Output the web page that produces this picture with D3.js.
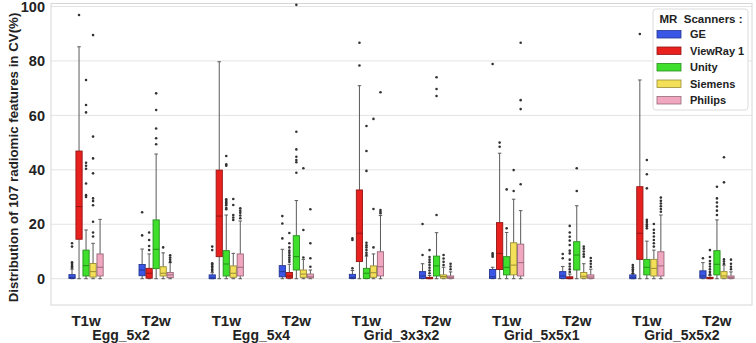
<!DOCTYPE html>
<html>
<head>
<meta charset="utf-8">
<script src="https://cdn.jsdelivr.net/npm/d3@7"></script>
<style>
  html, body { margin: 0; padding: 0; background: #fff; }
  svg { display: block; font-family: "Liberation Sans", Arial, sans-serif; }
</style>
</head>
<body>
<svg id="chart" width="756" height="343"></svg>
<script>
// ---- data ----
const phantoms = ["Egg_5x2", "Egg_5x4", "Grid_3x3x2", "Grid_5x5x1", "Grid_5x5x2"];
const sequences = ["T1w", "T2w"];
const scanners = ["GE", "ViewRay 1", "Unity", "Siemens", "Philips"];
const scannerColors = ["#3a56e6", "#e8211e", "#3ee02c", "#f3df58", "#f1a7c0"];
const yTicks = [0, 20, 40, 60, 80, 100];

// five-number summaries per group: [whiskerLow, q1, median, q3, whiskerHigh]
const geStats = [[0,0.1,0.5,1.5,3.5],[0,1.1,3.2,5.2,10.9],[0,0,0.3,1.4,2.2],[0,0.7,2.6,4.8,10.8],[0,0.1,0.5,1.6,3],
                 [0,0.1,1.0,2.6,5.5],[0,0.1,0.7,3.4,4.2],[0,0.1,1.0,2.6,4.5],[0,0,0.5,1.4,1.8],[0,0.2,1.0,2.9,5.9]];
const geOut = [[4,4.5,5,5.5,6,11.8,13],[15.9,24.4],[2.8,3.4,4,4.6,5.2,5.7,10.5,11.8],[14.8,20.3,23],[3.8,14.2,14.8],
               [8.7,20.1],[8.1,8.7,9.3,78.9],[7.5,9.1],[2,2.8,3.5,4.2,5],[7.5]];

const viewrayStats = [[0,14.5,26.5,46.9,85.2],[0,0.2,2.0,3.8,9.1],[0,8.1,23.0,39.9,79.7],[0,0.2,1.0,2.3,5.3],[0,6.3,16.7,32.6,70.9],
                      [0,0,0.2,0.5,1.2],[0,3.4,9.3,20.6,46.1],[0,0,0.2,0.7,1.7],[0,7.1,16.7,33.8,73.0],[0,0,0.2,0.5,1.2]];
const viewrayOut = [[96.9],[10.5,12,14.2,17],[],[6.2,7,7.8,8.6,9.5,10.3,11.5,13,16.8],[78.3,86.7],
                    [2,3,4,5,6,7,8,10.5],[48.5,50],[2.5,3.5,4.5,5.5,7,9.3,10.3,12.4,14,15.4,17,19.4],[89.9],[1.6,2.5,3.5,4.5,5.5,6.5,8,10.5]];

const unityStats = [[0,1.0,4.8,10.5,17.9],[0,3.7,10.8,21.6,45.8],[0,1.0,5.4,10.3,23.4],[0,3.2,8.1,15.8,28.7],[0,0.1,2.0,3.8,8.3],
                    [0,1.0,4.7,8.3,16.9],[0,1.4,4.2,8.1,17],[0,3.2,8.7,13.6,26.8],[0,1.4,4.2,7.1,13.8],[0,1.4,5.3,10.3,21.6]];
const unityOut = [[30,30.7,35,40.4,41.5,42.6,61.1,63.8,73],[49.4,51.6,55.2,62,68.1],[25.5,26,27,27.5,28,28.5,29.2,41.5,42,45.1],
                  [38.9,42.8,43.6,44.8,47.5,54,100.6],[8.7,9.5,10.5,11.5,12.3,13.2,39.6,46.9,56.1],[23.4,67.1,69.7,74],
                  [18.5,32.8],[32.2,40.6],[18.5,19.3,20,20.8,21.6,33.2,38.4,43.6],[23.4,25,26.5,28,29.5,33.8]];

const siemensStats = [[0,0.6,2.6,5.6,13],[0,1.0,2.0,4.4,9.5],[0,0.5,2.0,4.7,9.3],[0,0.5,1.7,3.2,7.1],[0,0.5,2.2,4.7,9.1],
                      [0,0.2,0.8,1.4,4.2],[0,1.4,5.0,13.2,29.2],[0,0.2,0.9,2.3,5.5],[0,1.0,3.8,7.1,10.5],[0,0.2,1.0,2.6,5]];
const siemensOut = [[15.5,17,20.9,27,28.5,29.5,38.7,44.2,52.2,89.5],[11.5],[21.6,22.5,23.4,27.1,29.3],[7.8,17.9,40.6],
                    [11.5,25.6,58.7],[5,6.2,7.4,8.7],[32.2,39.9],[8.1,9,10,11,11.8],[11.8,13,14.2,15.5,16.8,18,20.1],[5.5,6.3,7.1,35.4,44.6]];

const philipsStats = [[0,1.0,4.2,9.1,21.8],[0,0.4,1.4,2.3,5.9],[0,1.0,4.2,9.1,21.2],[0,0.3,0.7,1.7,3.2],[0,1.0,4.4,9.9,23.2],
                      [0,0.1,0.5,1.0,2.5],[0,1.0,5.9,12.7,25.0],[0,0.1,0.6,1.4,3.5],[0,1.0,4.7,9.9,23.4],[0,0.1,0.5,1.0,2.5]];
const philipsOut = [[],[6.2,7,7.8,8.6],[22.2,23.2,24.2,25,25.9],[4.4,7.5,13,25.5],[24,24.6,25.2,68.5],
                    [3.5,4.5,5.5],[34.7,62.3,65.6,86.7],[4.4,5.5,6.5,7.6],[24.6,25.6,26.6,27.6,28.6,29.8],[3.5,4.4,5.5,7]];

const allStats = [geStats, viewrayStats, unityStats, siemensStats, philipsStats];
const allOut = [geOut, viewrayOut, unityOut, siemensOut, philipsOut];

// ---- layout ----
const svg = d3.select("#chart");
const plot = { left: 51, right: 752, top: 3.5, bottom: 305 };
const groups = d3.range(phantoms.length * sequences.length);

const x = d3.scaleBand().domain(groups).range([plot.left, plot.right]).padding(0);
const y = d3.scaleLinear().domain([-9.66, 101.1]).range([plot.bottom, plot.top]);
const boxW = x.bandwidth() * 0.1;
const xs = d3.scaleLinear().domain([0, scanners.length - 1])
  .range([-2 * boxW, 2 * boxW]);

// gridlines
svg.append("g").selectAll("line").data(yTicks).join("line")
  .attr("x1", plot.left).attr("x2", plot.right)
  .attr("y1", d => y(d)).attr("y2", d => y(d))
  .attr("stroke", "#e3e3e3").attr("stroke-width", 1);

// frame
svg.append("rect")
  .attr("x", plot.left).attr("y", plot.top)
  .attr("width", plot.right - plot.left).attr("height", plot.bottom - plot.top)
  .attr("fill", "none").attr("stroke", "#d6d6d6").attr("stroke-width", 1);

// y axis
const yAxis = d3.axisLeft(y).tickValues(yTicks).tickSize(0).tickPadding(6);
const yg = svg.append("g").attr("transform", `translate(${plot.left},0)`).call(yAxis);
yg.select(".domain").remove();
yg.selectAll("text").attr("font-size", 14.5).attr("font-weight", "bold")
  .attr("fill", "#222").attr("font-family", "Liberation Sans, Arial, sans-serif");

// y label
svg.append("text")
  .attr("transform", `translate(18,157.5) rotate(-90)`)
  .attr("text-anchor", "middle")
  .attr("font-size", 13.3).attr("font-weight", "bold").attr("fill", "#222")
  .text("Distribution of 107 radiomic features in CV(%)");

// x axis
const xAxis = d3.axisBottom(x).tickSize(0).tickPadding(10)
  .tickFormat(d => sequences[d % sequences.length]);
const xg = svg.append("g").attr("transform", `translate(0,${plot.bottom})`).call(xAxis);
xg.select(".domain").remove();
xg.selectAll("text").attr("font-size", 15).attr("font-weight", "bold")
  .attr("fill", "#222").attr("font-family", "Liberation Sans, Arial, sans-serif");

// phantom labels
svg.append("g").selectAll("text").data(phantoms).join("text")
  .attr("x", (d, i) => (x(2 * i) + x(2 * i + 1) + x.bandwidth()) / 2)
  .attr("y", 340)
  .attr("text-anchor", "middle")
  .attr("font-size", 14).attr("font-weight", "bold").attr("fill", "#222")
  .text(d => d);

// boxes
const lineCol = "#5a5a5a";
scanners.forEach((s, si) => {
  const g = svg.append("g");
  const col = scannerColors[si];
  const edge = d3.color(col).darker(1.3).formatHex();
  const stats = allStats[si];
  const outs = allOut[si];
  groups.forEach(gi => {
    const [lo, q1, med, q3, hi] = stats[gi];
    const cx = x(gi) + x.bandwidth() / 2 + xs(si);
    // whiskers
    g.append("line").attr("x1", cx).attr("x2", cx).attr("y1", y(q3)).attr("y2", y(hi))
      .attr("stroke", lineCol).attr("stroke-width", 1);
    g.append("line").attr("x1", cx).attr("x2", cx).attr("y1", y(q1)).attr("y2", y(lo))
      .attr("stroke", lineCol).attr("stroke-width", 1);
    [lo, hi].forEach(v => {
      g.append("line").attr("x1", cx - boxW * 0.25).attr("x2", cx + boxW * 0.25)
        .attr("y1", y(v)).attr("y2", y(v))
        .attr("stroke", lineCol).attr("stroke-width", 1);
    });
    // box
    g.append("rect")
      .attr("x", cx - boxW / 2 + 0.4).attr("width", boxW - 0.8)
      .attr("y", y(q3)).attr("height", Math.max(y(q1) - y(q3), 1))
      .attr("fill", col).attr("stroke", edge).attr("stroke-width", 0.9);
    // median
    g.append("line").attr("x1", cx - boxW / 2 + 0.4).attr("x2", cx + boxW / 2 - 0.4)
      .attr("y1", y(med)).attr("y2", y(med))
      .attr("stroke", edge).attr("stroke-width", 1);
    // outliers
    g.selectAll(null).data(outs[gi]).join("circle")
      .attr("cx", cx).attr("cy", d => y(d)).attr("r", 1.3)
      .attr("fill", "#333");
  });
});

// legend
const lg = svg.append("g").attr("transform", "translate(653,9)");
lg.append("rect").attr("width", 95).attr("height", 101).attr("rx", 3)
  .attr("fill", "#fff").attr("fill-opacity", 0.9)
  .attr("stroke", "#dcdcdc").attr("stroke-width", 1);
lg.append("text").attr("x", 48).attr("y", 14).attr("text-anchor", "middle")
  .attr("font-size", 11.5).attr("font-weight", "bold").attr("fill", "#222")
  .style("white-space", "pre").text("MR  Scanners :");
scanners.forEach((s, i) => {
  const yy = 21.5 + i * 16.5;
  lg.append("rect").attr("x", 4).attr("y", yy).attr("width", 24).attr("height", 7.5)
    .attr("fill", scannerColors[i]).attr("stroke", d3.color(scannerColors[i]).darker(1.3).formatHex())
    .attr("stroke-width", 0.8);
  lg.append("text").attr("x", 37).attr("y", yy + 7.5)
    .attr("font-size", 11).attr("font-weight", "bold").attr("fill", "#222").text(s);
});
</script>
</body>
</html>
